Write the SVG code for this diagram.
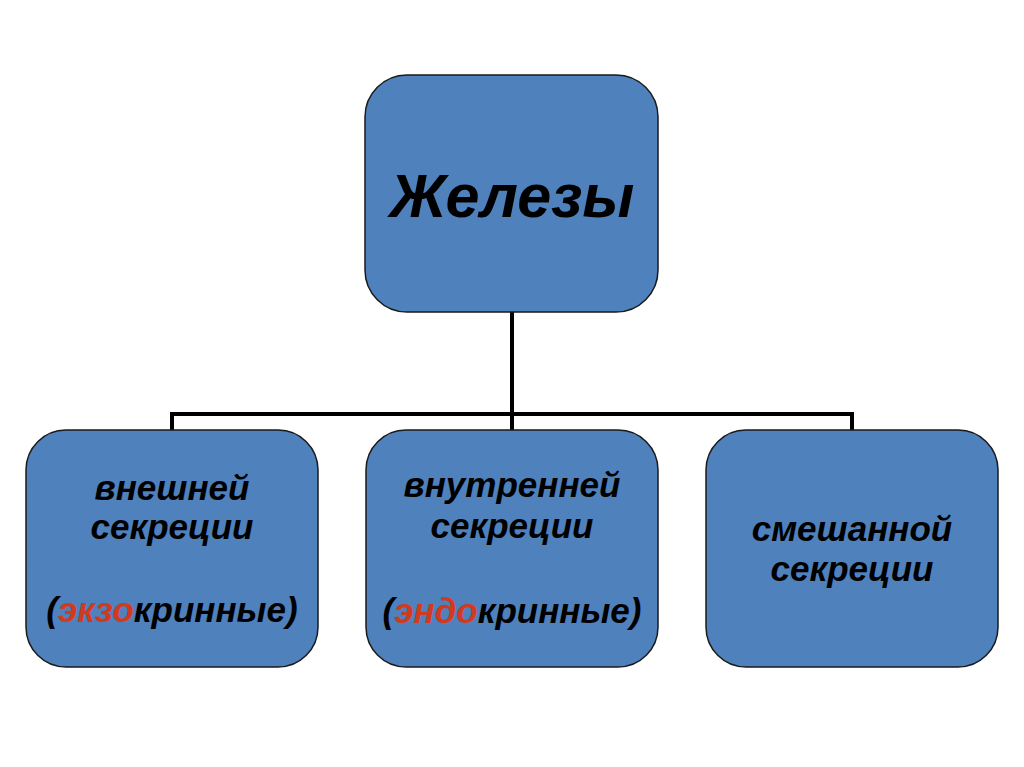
<svg xmlns="http://www.w3.org/2000/svg" width="1024" height="767" viewBox="0 0 1024 767">
<style>
.box{fill:#4F81BD;stroke:#1a1a1a;stroke-width:1.5}
.t{font-family:"Liberation Sans",Arial,sans-serif;font-weight:bold;font-style:italic;fill:#000;text-anchor:middle}
.s{font-size:35px}
.r{fill:#D03A1E}
.c{fill:none;stroke:#000;stroke-width:4;stroke-linecap:butt;stroke-linejoin:miter}
</style>
<rect width="1024" height="767" fill="#fff"/>
<g id="connectors">
<path class="c" d="M512 312 V414 M172 430 V414 H852 V430 M512 414 V430"/>
</g>
<g id="root">
<rect class="box" x="365" y="75" width="293" height="237" rx="42"/>
<text class="t" x="512" y="217" font-size="61">Железы</text>
</g>
<g id="exo">
<rect class="box" x="26" y="430" width="292" height="237" rx="40"/>
<text class="t s" x="172" y="500">внешней</text>
<text class="t s" x="172" y="539">секреции</text>
<text class="t s" x="172" y="622">(<tspan class="r">экзо</tspan>кринные)</text>
</g>
<g id="endo">
<rect class="box" x="366" y="430" width="292" height="237" rx="40"/>
<text class="t s" x="512" y="497">внутренней</text>
<text class="t s" x="512" y="538">секреции</text>
<text class="t s" x="512" y="623">(<tspan class="r">эндо</tspan>кринные)</text>
</g>
<g id="mixed">
<rect class="box" x="706" y="430" width="292" height="237" rx="40"/>
<text class="t s" x="852" y="541">смешанной</text>
<text class="t s" x="852" y="581">секреции</text>
</g>
</svg>
